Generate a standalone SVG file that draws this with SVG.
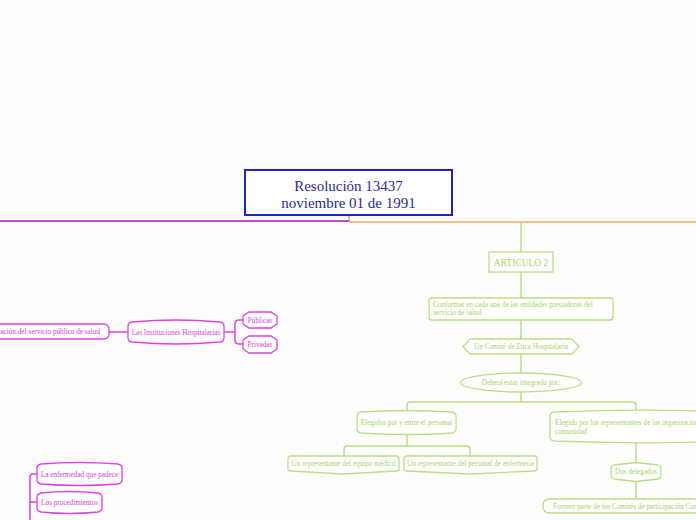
<svg xmlns="http://www.w3.org/2000/svg" width="696" height="520" viewBox="0 0 696 520">
<style>
.g{fill:#fff;stroke:#b9df84;stroke-width:1.3}
.m{fill:#fff;stroke:#e040e0;stroke-width:1.3}
.gt{font-family:"Liberation Serif",serif;font-size:7.2px;fill:#a6d366}
.mt{font-family:"Liberation Serif",serif;font-size:7.2px;fill:#d63cd6}
.gc{fill:none;stroke:#b9df84;stroke-width:1.5}
.mc{fill:none;stroke:#e040e0;stroke-width:1.5}
</style>
<rect width="696" height="520" fill="#fdfdfd"/>
<g id="connectors">
<line x1="0" y1="221" x2="349" y2="221" stroke="#c94ccf" stroke-width="2"/>
<line x1="349" y1="222" x2="696" y2="222" stroke="#f0aa60" stroke-width="1.5"/>
<line x1="349" y1="215" x2="349" y2="222" stroke="#c89060" stroke-width="1.2"/>
<path class="gc" d="M521,222 V252 M521,272 V298 M521,320 V339 M521,354 V373 M521,392 V402"/>
<path class="gc" d="M407,411 V405 Q407,402 410,402 H633 Q636,402 636,405 V411"/>
<path class="gc" d="M407,434 V446 M344,456 V449 Q344,446 347,446 H467 Q470,446 470,449 V456"/>
<path class="gc" d="M636,442 V463 M636,481 V499"/>
<path class="mc" stroke-width="2.5" d="M109,332 H128 M224,332 H235"/>
<path class="mc" d="M243,320 H239 Q235,320 235,324 V340 Q235,344 239,344 H243"/>
<path class="mc" d="M37,474 H33 Q30,474 30,477 V520 M30,502 H37"/>
</g>
<g id="root">
<rect x="245" y="170" width="207" height="45" fill="#fff" stroke="#2323c0" stroke-width="2"/>
<text x="348.5" y="191" text-anchor="middle" font-family="Liberation Serif,serif" font-size="15" fill="#2a2aa0">Resolución 13437</text>
<text x="348.5" y="208" text-anchor="middle" font-family="Liberation Serif,serif" font-size="15" fill="#2a2aa0">noviembre 01 de 1991</text>
</g>
<g id="articulo2">
<rect class="g" x="489" y="252" width="64" height="20"/>
<text class="gt" x="521" y="265.5" text-anchor="middle" style="font-size:9.5px">ARTICULO 2</text>
</g>
<g id="conformar">
<rect class="g" x="429" y="298" width="184" height="22" rx="3"/>
<text class="gt" x="433" y="306.5">Conformar en cada una de las entidades prestadoras del</text>
<text class="gt" x="433" y="315">servicio de salud</text>
</g>
<g id="comite">
<polygon class="g" points="463,346.5 470,339 572,339 579,346.5 572,354 470,354"/>
<text class="gt" x="521" y="349" text-anchor="middle">Un Comité de Etica Hospitalaria</text>
</g>
<g id="integrado">
<ellipse class="g" cx="521" cy="382.5" rx="60.5" ry="9.5"/>
<text class="gt" x="521" y="385" text-anchor="middle">Deberá estar integrado por:</text>
</g>
<g id="elegidos">
<path class="g" d="M361,412 Q407,409 452,412 Q456,413 456,416 V429 Q456,432 452,433 Q407,436 361,433 Q357,432 357,429 V416 Q357,413 361,412 Z"/>
<text class="gt" x="406.5" y="425" text-anchor="middle">Elegidos por y entre el personal</text>
</g>
<g id="medico">
<path class="g" d="M291,456 H396 Q399,456 399,459 V469 Q399,471 396,471 L343,474 L291,471 Q288,471 288,469 V459 Q288,456 291,456 Z"/>
<text class="gt" x="343.5" y="466" text-anchor="middle">Un representante del equipo médico</text>
</g>
<g id="enfermeria">
<path class="g" d="M407,456 H534 Q537,456 537,459 V469 Q537,471 534,471 L470,474 L407,471 Q404,471 404,469 V459 Q404,456 407,456 Z"/>
<text class="gt" x="470.5" y="466" text-anchor="middle">Un representante del personal de enfermería</text>
</g>
<g id="comunidad">
<path class="g" d="M554,412 Q630,409 700,411 V442 Q630,444 554,441 Q550,440 550,437 V416 Q550,413 554,412 Z"/>
<text class="gt" x="555" y="425">Elegido por los representantes de las organizaciones de la</text>
<text class="gt" x="555" y="434">comunidad</text>
</g>
<g id="delegados">
<path class="g" d="M614,465 L636,462.5 L658,465 Q661,466 661,469 V475 Q661,478 658,479 L636,481.5 L614,479 Q611,478 611,475 V469 Q611,466 614,465 Z"/>
<text class="gt" x="636" y="474" text-anchor="middle">Dos delegados</text>
</g>
<g id="formen">
<path class="g" d="M550,499 H700 V513 H550 Q543,513 543,506 Q543,499 550,499 Z"/>
<text class="gt" x="553" y="508.5">Formen parte de los Comités de participación Comunitaria</text>
</g>
<g id="prestacion">
<rect class="m" x="-120" y="324" width="229" height="15" rx="5"/>
<text class="mt" x="100" y="334" text-anchor="end">Prestación del servicio público de salud</text>
</g>
<g id="instituciones">
<path class="m" d="M132,322 Q176,318 220,322 Q224,323 224,326 V338 Q224,341 220,342 Q176,346 132,342 Q128,341 128,338 V326 Q128,323 132,322 Z"/>
<text class="mt" x="176" y="334.5" text-anchor="middle">Las Instituciones Hospitalarias</text>
</g>
<g id="publicas">
<path class="m" d="M243,316 L249,312 H271 L277,316 V324 L271,328 H249 L243,324 Z"/>
<text class="mt" x="260" y="322.5" text-anchor="middle">Públicas</text>
</g>
<g id="privadas">
<path class="m" d="M243,340 L249,336 H271 L277,340 V349 L271,353 H249 L243,349 Z"/>
<text class="mt" x="260" y="347" text-anchor="middle">Privadas</text>
</g>
<g id="enfermedad">
<path class="m" d="M41,464 Q79,461 118,464 Q122,465 122,468 V480 Q122,483 118,484 Q79,487 41,484 Q37,483 37,480 V468 Q37,465 41,464 Z"/>
<text class="mt" x="79.5" y="476.5" text-anchor="middle">La enfermedad que padece</text>
</g>
<g id="procedimientos">
<path class="m" d="M41,493 Q69,490 98,493 Q102,494 102,497 V508 Q102,511 98,512 Q69,515 41,512 Q37,511 37,508 V497 Q37,494 41,493 Z"/>
<text class="mt" x="69.5" y="505" text-anchor="middle">Los procedimientos</text>
</g>
</svg>
